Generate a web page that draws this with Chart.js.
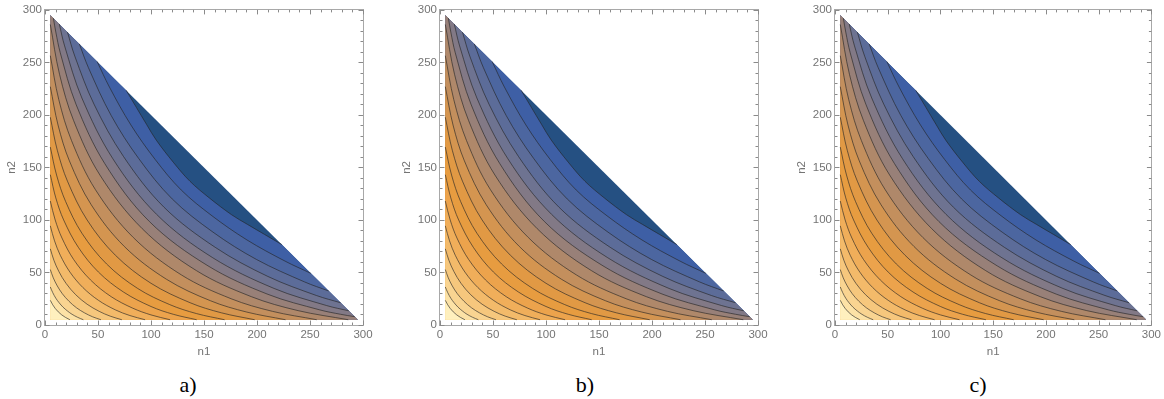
<!DOCTYPE html>
<html><head><meta charset="utf-8">
<script src="https://cdn.jsdelivr.net/npm/chart.js@4.4.1/dist/chart.umd.min.js"></script>
<style>
html,body{margin:0;padding:0;background:#fff;width:1164px;height:399px;overflow:hidden;position:relative}
.panel{position:absolute;top:0;height:360px}
.lab{position:absolute;top:374px;line-height:22px;font-family:"Liberation Serif","Times New Roman",serif;font-size:22px;color:#000;transform:translateX(-50%);white-space:nowrap}
</style></head><body>
<div class="panel" style="left:0;width:395px"><canvas id="ca"></canvas></div>
<div class="panel" style="left:395px;width:395px"><canvas id="cb"></canvas></div>
<div class="panel" style="left:790px;width:374px"><canvas id="cc"></canvas></div>
<div class="lab" style="left:188px">a)</div>
<div class="lab" style="left:585px">b)</div>
<div class="lab" style="left:978px">c)</div>
<script>
// ---- data (n1, n2) ----
const axisTicks = [0, 50, 100, 150, 200, 250, 300];
const minorTicks = [10,20,30,40,60,70,80,90,110,120,130,140,160,170,180,190,210,220,230,240,260,270,280,290];
const region = [[5,5],[5,295],[295,5]];

// contour lines, innermost (c00) to outermost (c17)
const c00 = [[5,23.5],[7.3,19.2],[9.6,15.8],[12.5,12.5],[15.8,9.6],[19.2,7.3],[23.5,5]];
const c01 = [[5,36.2],[7.3,30.8],[10.2,25.5],[13.3,21.2],[17,17],[21.2,13.3],[25.5,10.2],[30.8,7.3],[36.2,5]];
const c02 = [[5,52.8],[7.8,44.9],[11.6,37.2],[16.4,29.7],[22.6,22.6],[29.7,16.4],[37.2,11.6],[44.9,7.8],[52.8,5]];
const c03 = [[5,72.5],[8.4,61.6],[13,51.1],[19.8,39.7],[28.9,28.9],[39.7,19.8],[51.1,13],[61.6,8.4],[72.5,5]];
const c04 = [[5,94.4],[9,80.1],[14.4,66.4],[23.5,50.4],[35.7,35.7],[50.4,23.5],[66.4,14.4],[80.1,9],[94.4,5]];
const c05 = [[5,118],[9.6,100],[16,82.8],[27,62.4],[42.9,42.9],[62.4,27],[82.8,16],[100,9.6],[118,5]];
const c06 = [[5,143.1],[10.2,121],[17.6,100],[31.4,74],[50.4,50.4],[74,31.4],[100,17.6],[121,10.2],[143.1,5]];
const c07 = [[5,169.4],[10.9,142.8],[19.4,117.7],[34.8,87.4],[58.1,58.1],[87.4,34.8],[117.7,19.4],[142.8,10.9],[169.4,5]];
const c08 = [[5,197.8],[11.6,166.4],[21.2,136.9],[39.7,100],[66.4,66.4],[100,39.7],[136.9,21.2],[166.4,11.6],[197.8,5]];
const c09 = [[5,226.9],[12.3,190.4],[23,156.3],[43.6,114.5],[74.8,74.8],[114.5,43.6],[156.3,23],[190.4,12.3],[226.9,5]];
const c10 = [[5,256.4],[13,214.6],[25,175.6],[47.6,128.8],[83.3,83.3],[128.8,47.6],[175.6,25],[214.6,13],[256.4,5]];
const c11 = [[5,286.1],[13.7,238.7],[27,194.6],[51.8,142.8],[91.7,91.7],[142.8,51.8],[194.6,27],[238.7,13.7],[286.1,5]];
const c12 = [[7.9,292.1],[10.2,278.9],[14.4,259.2],[29.2,210.3],[56.3,153.8],[98.5,98.5],[153.8,56.3],[210.3,29.2],[259.2,14.4],[278.9,10.2],[292.1,7.9]];
const c13 = [[13.5,286.5],[18.5,265.7],[34.8,216.1],[64,158.3],[105.3,105.3],[158.3,64],[216.1,34.8],[265.7,18.5],[286.5,13.5]];
const c14 = [[21.2,278.8],[28.1,256],[46.2,210.3],[74,160.5],[112.2,112.2],[160.5,74],[210.3,46.2],[256,28.1],[278.8,21.2]];
const c15 = [[32.4,267.6],[41,244.9],[62.4,199.5],[88.4,158.5],[120,120],[158.5,88.4],[199.5,62.4],[244.9,41],[267.6,32.4]];
const c16 = [[49.2,250.8],[60.8,226.5],[81,190.5],[104,157.5],[128.5,128.5],[157.5,104],[190.5,81],[226.5,60.8],[250.8,49.2]];
const c17 = [[76.6,223.4],[95.8,191],[105,176],[121,155],[136.8,136.8],[155,121],[176,105],[191,95.8],[223.4,76.6]];
const contours = [c00,c01,c02,c03,c04,c05,c06,c07,c08,c09,c10,c11,c12,c13,c14,c15,c16,c17];

// ---- styles ----
const bandColors = [
  'rgb(255,240,190)','rgb(252,226,166)','rgb(249,212,145)','rgb(246,199,125)','rgb(243,186,106)',
  'rgb(240,174,90)','rgb(236,163,76)','rgb(231,156,64)','rgb(225,153,68)','rgb(212,149,80)',
  'rgb(195,143,93)','rgb(175,136,106)','rgb(152,128,120)','rgb(130,121,134)','rgb(110,115,145)',
  'rgb(92,108,153)','rgb(76,102,160)','rgb(62,95,165)','rgb(37,80,130)'
];
const lineColor = 'rgba(35,35,35,0.62)';
const TENSION = 0.35;
const textColor = '#747474';
const fontFam = '"Liberation Sans", Arial, sans-serif';

function P(p){ return {x:p[0], y:p[1]}; }
function polygonFor(c){
  const out = [];
  const first = c[0];
  const fromLeftEdge = first[0] <= region[0][0] + 0.01;
  if (!fromLeftEdge) { out.push(P(region[0]),P(region[0]),P(region[1]),P(region[1])); }
  c.forEach((p,i)=>{ if(i===0||i===c.length-1){ out.push(P(p),P(p)); } else out.push(P(p)); });
  if (fromLeftEdge) out.push(P(region[0]),P(region[0]));
  else out.push(P(region[2]),P(region[2]));
  return out;
}

function buildDatasets(){
  const ds = [];
  ds.push({data: region.map(P), fill:'shape', backgroundColor: bandColors[18], borderWidth:0, borderColor:'rgba(0,0,0,0)', tension:0, order:1000});
  for (let k = contours.length-1; k >= 0; k--) {
    ds.push({data: polygonFor(contours[k]), fill:'shape', backgroundColor: bandColors[k], borderWidth:0, borderColor:'rgba(0,0,0,0)', tension:TENSION, order:500+k});
  }
  contours.forEach((c,k)=>{
    ds.push({data: c.map(P), fill:false, borderColor: lineColor, borderWidth:1, tension:TENSION, order:k});
  });
  return ds;
}

const framePlugin = {
  id:'frame',
  afterDraw(chart){
    const {ctx, chartArea:{left,right,top,bottom}, scales:{x,y}} = chart;
    ctx.save();
    ctx.strokeStyle = '#a8a8a8';
    ctx.lineWidth = 1;
    ctx.strokeRect(Math.round(left)-0.5, Math.round(top)-0.5, Math.round(right-left)+1, Math.round(bottom-top)+1);
    ctx.strokeStyle = '#8a8a8a';
    ctx.beginPath();
    const draw = (v,len)=>{
      const px = Math.round(x.getPixelForValue(v))+0.5;
      const py = Math.round(y.getPixelForValue(v))+0.5;
      ctx.moveTo(px, bottom); ctx.lineTo(px, bottom-len);
      ctx.moveTo(px, top); ctx.lineTo(px, top+len);
      ctx.moveTo(left, py); ctx.lineTo(left+len, py);
      ctx.moveTo(right, py); ctx.lineTo(right-len, py);
    };
    axisTicks.forEach(v=>draw(v,4.5));
    minorTicks.forEach(v=>draw(v,2.5));
    ctx.stroke();
    ctx.restore();
  }
};

function makeChart(id, rightPad){
  new Chart(document.getElementById(id), {
    type:'line',
    data:{datasets: buildDatasets()},
    options:{
      responsive:true, maintainAspectRatio:false, animation:false,
      layout:{padding:{top:9,right:rightPad,bottom:0,left:0}},
      elements:{point:{radius:0,hitRadius:0,hoverRadius:0}},
      plugins:{legend:{display:false},tooltip:{enabled:false}},
      events:[],
      scales:{
        x:{type:'linear',min:0,max:300,afterFit(s){s.height=35;},
           afterBuildTicks(s){s.ticks = axisTicks.map(v=>({value:v}));},
           ticks:{color:textColor,font:{family:fontFam,size:11.5},padding:3,maxRotation:0,autoSkip:false},
           grid:{display:false,drawTicks:false},border:{display:false},
           title:{display:true,text:'n1',color:textColor,font:{family:fontFam,size:11.5},padding:{top:0,bottom:1}}},
        y:{type:'linear',min:0,max:300,afterFit(s){s.width=45;},
           afterBuildTicks(s){s.ticks = axisTicks.map(v=>({value:v}));},
           ticks:{color:textColor,font:{family:fontFam,size:11.5},padding:3,autoSkip:false},
           grid:{display:false,drawTicks:false},border:{display:false},
           title:{display:true,text:'n2',color:textColor,font:{family:fontFam,size:11.5},padding:{top:5,bottom:0}}}
      }
    },
    plugins:[framePlugin]
  });
}
makeChart('ca', 32);
makeChart('cb', 32);
makeChart('cc', 11);
</script>
</body></html>
